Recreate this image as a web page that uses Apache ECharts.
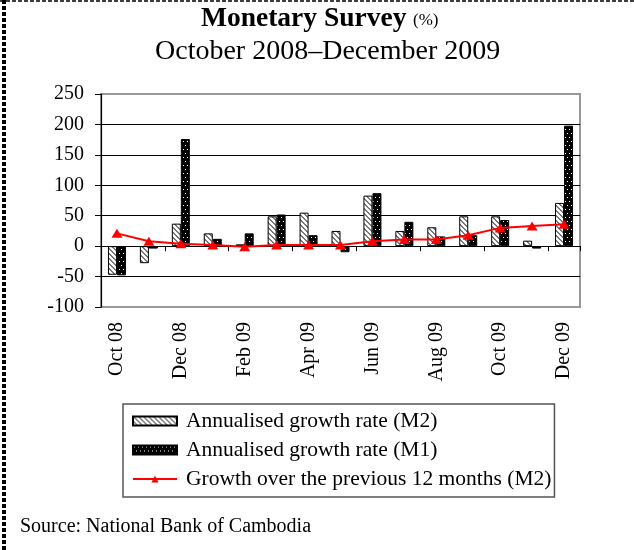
<!DOCTYPE html>
<html>
<head>
<meta charset="utf-8">
<script src="https://cdn.jsdelivr.net/npm/echarts@6/dist/echarts.min.js"></script>
<style>
html,body{margin:0;padding:0;background:#fff;}
#chart{width:634px;height:550px;}
</style>
</head>
<body>
<div id="chart"></div>
<script>
const categories = ['Oct 08','Nov 08','Dec 08','Jan 09','Feb 09','Mar 09','Apr 09','May 09','Jun 09','Jul 09','Aug 09','Sep 09','Oct 09','Nov 09','Dec 09'];
const m2Annualised = [-47, -28, 37, 21, 3, 49, 55, 25, 83, 25, 31, 49, 49, 9, 71];
const m1Annualised = [-48, -4, 176, 12, 21, 52, 18, -10, 87, 40, 16, 18, 43, -4, 198];
const m2Growth12m = [21, 8, 4, 2, -1, 2, 2, 2, 8, 11, 11, 18, 30, 33, 36];
const seriesNames = ['Annualised growth rate (M2)', 'Annualised growth rate (M1)', 'Growth over the previous 12 months (M2)'];
const yMin = -100, yMax = 250, yStep = 50;

const FONT = "'Liberation Serif', 'Times New Roman', serif";

function hatchPattern() {
  const c = document.createElement('canvas');
  c.width = 5; c.height = 5;
  const g = c.getContext('2d');
  g.fillStyle = '#fff'; g.fillRect(0, 0, 5, 5);
  g.fillStyle = '#7a7a7a';
  for (let i = 0; i < 5; i++) { g.fillRect(i, i, 1, 1); g.fillRect((i + 1) % 5, i, 1, 1); }
  return c;
}
function dotPattern() {
  const c = document.createElement('canvas');
  c.width = 8; c.height = 8;
  const g = c.getContext('2d');
  g.fillStyle = '#000'; g.fillRect(0, 0, 8, 8);
  g.fillStyle = '#fff';
  [[1,1],[5,1],[3,5],[7,5]].forEach(p => g.fillRect(p[0], p[1], 1, 1));
  return c;
}

const chart = echarts.init(document.getElementById('chart'), null, {renderer: 'canvas'});
const option = {
  animation: false,
  backgroundColor: '#fff',
  textStyle: {fontFamily: FONT},
  grid: {left: 101, top: 94, right: 54, bottom: 243, show: true, borderColor: '#999', borderWidth: 2, backgroundColor: 'transparent'},
  legend: {
    orient: 'vertical', left: 123, top: 404,
    itemWidth: 44, itemHeight: 9, itemGap: 5,
    borderColor: '#555', borderWidth: 1.5,
    padding: [5, 3, 6, 9],
    selectedMode: false,
    textStyle: {fontFamily: FONT, fontSize: 21.5, color: '#000', lineHeight: 24, padding: [0, 0, 0, 4]},
    data: [{name: seriesNames[0], icon: 'rect'}, {name: seriesNames[1], icon: 'rect'}, {name: seriesNames[2]}]
  },
  xAxis: [
    {
      type: 'category', data: categories, boundaryGap: true,
      axisLine: {onZero: true, lineStyle: {color: '#000', width: 1}},
      axisTick: {show: true, interval: 1, length: 5, lineStyle: {color: '#000'}},
      axisLabel: {show: false},
      splitLine: {show: false}
    },
    {
      type: 'category', data: categories, boundaryGap: true, position: 'bottom',
      axisLine: {show: false, onZero: false},
      axisTick: {show: false},
      axisLabel: {interval: 1, rotate: 90, margin: 15, fontFamily: FONT, fontSize: 20, color: '#000'},
      splitLine: {show: false}
    }
  ],
  yAxis: {
    type: 'value', min: yMin, max: yMax, interval: yStep,
    axisLine: {show: true, lineStyle: {color: '#000', width: 1.2}},
    axisTick: {show: true, length: 6, lineStyle: {color: '#000'}},
    axisLabel: {margin: 17, fontFamily: FONT, fontSize: 20, color: '#000'},
    splitLine: {show: true, lineStyle: {color: ['#999', '#000', '#000', '#000', '#000', '#000', '#000', '#999'], width: 1}}
  },
  graphic: [
    {type: 'line', shape: {x1: 0, y1: 1, x2: 634, y2: 1}, style: {stroke: '#000', lineWidth: 1.5, lineDash: [4, 2]}, silent: true},
    {type: 'line', shape: {x1: 4, y1: 0, x2: 4, y2: 550}, style: {stroke: '#000', lineWidth: 4, lineDash: [4, 2]}, silent: true},
    {type: 'text', left: 201, top: 5, style: {text: 'Monetary Survey', font: "bold 27.5px " + FONT, fill: '#000'}},
    {type: 'text', left: 413, top: 12, style: {text: '(%)', font: "17px " + FONT, fill: '#000'}},
    {type: 'text', left: 155, top: 38, style: {text: 'October 2008\u2013December 2009', font: "28px " + FONT, fill: '#000'}},
    {type: 'text', left: 20, top: 517, style: {text: 'Source: National Bank of Cambodia', font: "20px " + FONT, fill: '#000'}}
  ],
  series: [
    {
      name: seriesNames[0], type: 'bar', xAxisIndex: 0, data: m2Annualised,
      barWidth: 9, barGap: '0%',
      itemStyle: {color: {image: hatchPattern(), repeat: 'repeat'}, borderColor: '#000', borderWidth: 1}
    },
    {
      name: seriesNames[1], type: 'bar', xAxisIndex: 0, data: m1Annualised,
      barWidth: 9, barGap: '0%',
      itemStyle: {color: {image: dotPattern(), repeat: 'repeat'}, borderColor: '#000', borderWidth: 1}
    },
    {
      name: seriesNames[2], type: 'line', xAxisIndex: 0, data: m2Growth12m,
      symbol: 'triangle', symbolSize: [11, 9], showAllSymbol: true,
      lineStyle: {color: '#ff0000', width: 2},
      itemStyle: {color: '#ff0000'},
      z: 5
    }
  ]
};
chart.setOption(option);
</script>
</body>
</html>
